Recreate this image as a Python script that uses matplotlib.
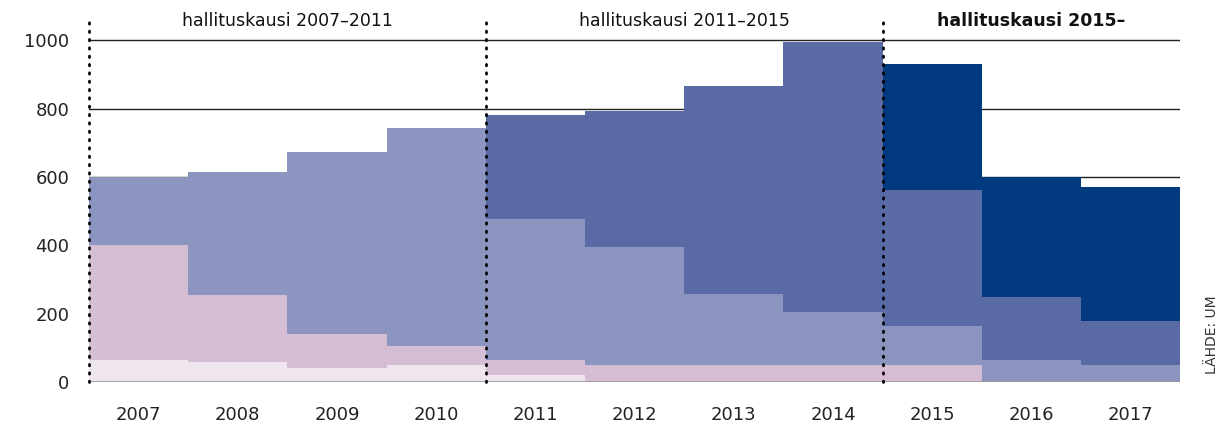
import matplotlib.pyplot as plt
import numpy as np

plt.rcParams['font.family'] = ['DejaVu Sans']

years = ['2007', '2008', '2009', '2010', '2011', '2012', '2013', '2014', '2015', '2016', '2017']

# stacked layers, bottom to top
layer1 = [64, 58, 41, 50, 20, 0, 0, 0, 0, 0, 0]
layer2 = [336, 196, 99, 55, 44, 50, 50, 50, 50, 0, 0]
layer3 = [200, 360, 532, 638, 413, 345, 207, 155, 114, 64, 50]
layer4 = [0, 0, 0, 0, 304, 397, 608, 789, 397, 185, 128]
layer5 = [0, 0, 0, 0, 0, 0, 0, 0, 369, 351, 392]

colors = ['#EEE5EE', '#D5BDD3', '#8B95C0', '#5A6AA5', '#023A80']

periods = ['hallituskausi 2007–2011', 'hallituskausi 2011–2015', 'hallituskausi 2015–']
period_bounds = [(-0.5, 3.5), (3.5, 7.5), (7.5, 10.5)]

fig = plt.figure(figsize=(12.24, 4.26), dpi=100)
ax = fig.add_axes([0.0727, 0.103, 0.8915, 0.859])

x = np.arange(len(years))
bottom = np.zeros(len(years))
for vals, c in zip([layer1, layer2, layer3, layer4, layer5], colors):
    ax.bar(x, vals, width=1.0, bottom=bottom, color=c, linewidth=0, zorder=2)
    bottom += np.array(vals)

ax.set_xlim(-0.5, 10.5)
ax.set_ylim(0, 1070)
ax.set_yticks([0, 200, 400, 600, 800, 1000])
ax.set_xticks(x)
ax.set_xticklabels(years)
ax.tick_params(length=0, labelsize=13, colors='#222222', pad=17)
ax.tick_params(axis='y', pad=14)
for s in ax.spines.values():
    s.set_visible(False)

for yv in [200, 400, 600, 800, 1000]:
    ax.axhline(yv, color='#222222', lw=1, zorder=1)
ax.axhline(0, color='#999999', lw=1.2, zorder=3)

# dotted period separators
for xb in [-0.5, 3.5, 7.5]:
    ax.plot([xb, xb], [0, 1070], color='black', lw=2, ls=(0, (0.5, 2.5)),
            dash_capstyle='round', zorder=4, clip_on=False)

for i, (lab, (a, b)) in enumerate(zip(periods, period_bounds)):
    ax.text((a + b) / 2, 1055, lab, ha='center', va='center', fontsize=12.5,
            color='#111111', fontweight='bold' if i == 2 else 'normal')

fig.text(0.99, 0.215, 'LÄHDE: UM', rotation=90, ha='center', va='center',
         fontsize=10, color='#333333')

fig.savefig('out.png', dpi=100)
